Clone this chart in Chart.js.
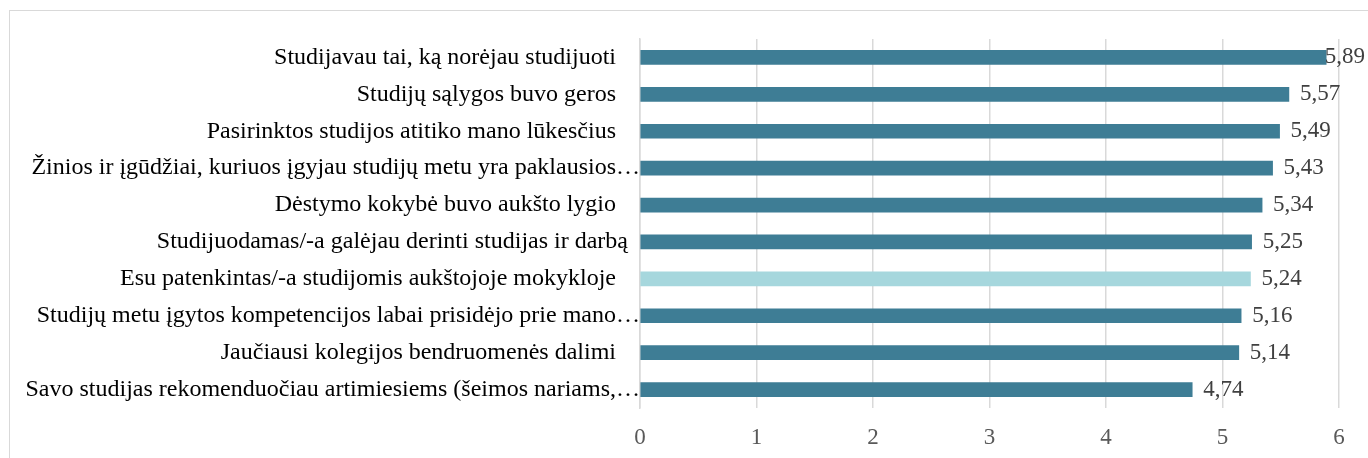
<!DOCTYPE html>
<html>
<head>
<meta charset="utf-8">
<script src="https://cdn.jsdelivr.net/npm/chart.js@4"></script>
<style>
  html, body { margin: 0; padding: 0; background: #fff; }
  #wrap { position: relative; width: 1368px; height: 458px; }
  #frame { position: absolute; left: 9px; top: 10px; width: 1400px; height: 500px; border: 1px solid #d9d9d9; box-sizing: border-box; }
  canvas { position: absolute; left: 0; top: 0; }
</style>
</head>
<body>
<div id="wrap">
  <div id="frame"></div>
  <canvas id="barChart" width="1368" height="458"></canvas>
</div>
<script>
var categories = [
  "Studijavau tai, ką norėjau studijuoti    ",
  "Studijų sąlygos buvo geros    ",
  "Pasirinktos studijos atitiko mano lūkesčius    ",
  "Žinios ir įgūdžiai, kuriuos įgyjau studijų metu yra paklausios…",
  "Dėstymo kokybė buvo aukšto lygio    ",
  "Studijuodamas/-a galėjau derinti studijas ir darbą  ",
  "Esu patenkintas/-a studijomis aukštojoje mokykloje    ",
  "Studijų metu įgytos kompetencijos labai prisidėjo prie mano…",
  "Jaučiausi kolegijos bendruomenės dalimi    ",
  "Savo studijas rekomenduočiau artimiesiems (šeimos nariams,…"
];
var values = [5.89, 5.57, 5.49, 5.43, 5.34, 5.25, 5.24, 5.16, 5.14, 4.74];
var xTicks = [0, 1, 2, 3, 4, 5, 6];

var darkColor = "#3e7d95";
var lightColor = "#a6d7dd";
var barColors = values.map(function (v, i) { return i === 6 ? lightColor : darkColor; });

var valueLabels = {
  id: "valueLabels",
  afterDatasetsDraw: function (chart) {
    var ctx = chart.ctx;
    var meta = chart.getDatasetMeta(0);
    ctx.save();
    ctx.font = "23px 'Liberation Serif', 'Times New Roman', serif";
    ctx.fillStyle = "#404040";
    ctx.textBaseline = "middle";
    meta.data.forEach(function (bar, i) {
      var txt = values[i].toFixed(2).replace(".", ",");
      var w = ctx.measureText(txt).width;
      var x = Math.min(bar.x + 11, chart.width - w - 3);
      ctx.fillText(txt, x, bar.y);
    });
    ctx.restore();
  }
};

new Chart(document.getElementById("barChart").getContext("2d"), {
  type: "bar",
  data: {
    labels: categories,
    datasets: [{
      data: values,
      backgroundColor: barColors,
      barThickness: 14
    }]
  },
  plugins: [valueLabels],
  options: {
    indexAxis: "y",
    responsive: false,
    animation: false,
    layout: { padding: { top: 39, right: 29, bottom: 0, left: 0 } },
    plugins: { legend: { display: false }, tooltip: { enabled: false } },
    scales: {
      x: {
        min: 0,
        max: 6,
        afterBuildTicks: function (scale) {
          scale.ticks = xTicks.map(function (v) { return { value: v }; });
        },
        afterFit: function (scale) { scale.height = 50; },
        grid: { color: "#d9d9d9", drawTicks: false, lineWidth: 1.5 },
        border: { display: false },
        ticks: {
          color: "#595959",
          padding: 16,
          font: { family: "'Liberation Serif', 'Times New Roman', serif", size: 23 }
        }
      },
      y: {
        afterFit: function (scale) { scale.width = 640; },
        grid: { display: false },
        border: { display: true, color: "#d9d9d9", width: 1.5 },
        ticks: {
          color: "#000000",
          padding: -8,
          font: { family: "'Liberation Serif', 'Times New Roman', serif", size: 24 }
        }
      }
    }
  }
});
</script>
</body>
</html>
